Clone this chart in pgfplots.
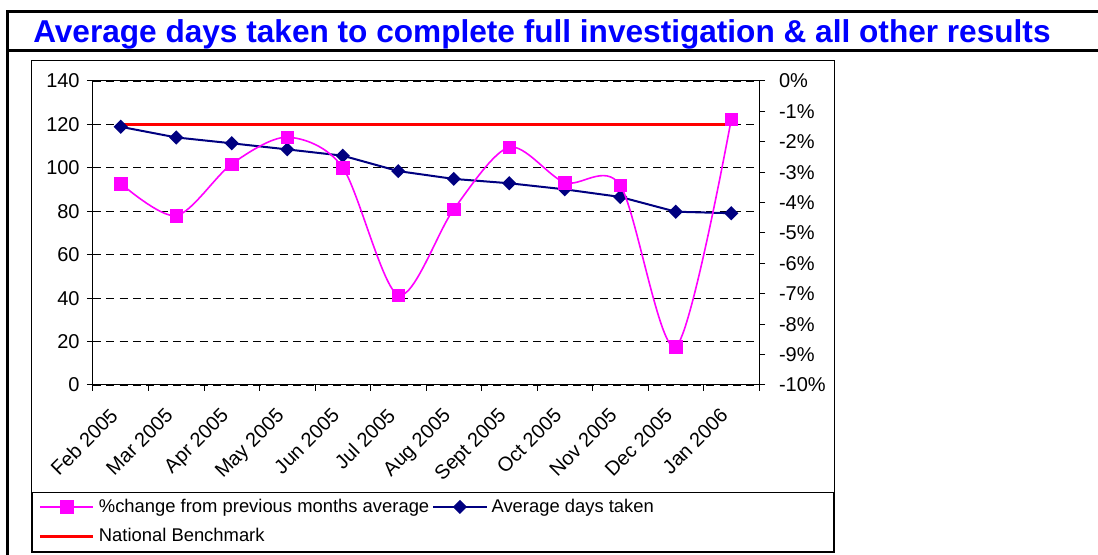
\documentclass[border=0pt]{standalone}
\usepackage{fontspec}
\setmainfont{Liberation Sans}
\usepackage{pgfplots}
\pgfplotsset{compat=1.18}
\definecolor{navyline}{RGB}{0,0,128}
\definecolor{pinkline}{RGB}{255,0,255}
\definecolor{benchred}{RGB}{255,0,0}
\definecolor{titleblue}{RGB}{0,0,255}
\pgfplotsset{
  legend image code/.code={\draw[mark repeat=2,mark phase=2,#1] plot coordinates {(0pt,0pt) (20pt,0pt) (40pt,0pt)};},
}
\newcommand{\tickfont}{\fontsize{15}{17}\selectfont}

\begin{document}
\begin{tikzpicture}[x=0.75pt,y=0.75pt]
\useasboundingbox (0,0) rectangle (1098,555);
% outer frame and title bar
\draw[line width=2.25pt] (1098,543) -- (7,543) -- (7,0);
\draw[line width=2.25pt] (7,504) -- (1098,504);
\node[anchor=base west, inner sep=0pt, text=titleblue,
      font=\fontsize{23.7}{28}\selectfont\bfseries] at (33,512)
  {Average days taken to complete full investigation \& all other results};
% chart area and legend box
\draw[line width=0.75pt] (31,494) rectangle (834,2);
\draw[line width=0.75pt] (32,62) rectangle (833,3);

\begin{axis}[
  at={(69.75pt,127.5pt)}, anchor=south west, scale only axis,
  width=499.5pt, height=228pt,
  xmin=0, xmax=12, ymin=0, ymax=140,
  ytick={0,20,...,140},
  xtick={0,1,...,12}, xticklabel=\empty,
  extra x ticks={0.5,1.5,...,11.5},
  extra x tick labels={Feb 2005,Mar 2005,Apr 2005,May 2005,Jun 2005,Jul 2005,Aug 2005,Sept 2005,Oct 2005,Nov 2005,Dec 2005,Jan 2006},
  extra x tick style={major tick length=0pt},
  x tick label style={xshift=-9pt, yshift=-11.5pt, rotate=45, anchor=north east, font=\tickfont},
  tick pos=left, tick align=outside,
  major tick length=4.5pt,
  ymajorgrids,
  major grid style={black, line width=0.6pt, dash pattern=on 6pt off 4pt},
  y tick label style={font=\tickfont, xshift=-2pt},
  /pgf/number format/assume math mode=true,
  axis line style={line width=0.75pt},
  tick style={black, line width=0.75pt},
  clip=false,
]
\addplot[benchred, line width=2.5pt, forget plot] coordinates {(0.5,120) (11.5,120)};
\addplot[navyline, line width=1.5pt, mark=square*, mark size=3pt,
  mark options={rotate=45, fill=navyline}, forget plot] coordinates {
  (0.5,118.9) (1.5,114.0) (2.5,111.3) (3.5,108.5) (4.5,105.6) (5.5,98.5)
  (6.5,94.9) (7.5,92.9) (8.5,90.1) (9.5,86.6) (10.5,79.8) (11.5,79.1)
};
\end{axis}

\begin{axis}[
  at={(69.75pt,127.5pt)}, anchor=south west, scale only axis,
  width=499.5pt, height=228pt,
  xmin=0, xmax=12, ymin=-10, ymax=0,
  axis x line=none, axis y line*=right,
  ytick={-10,-9,...,0},
  yticklabels={-10\%,-9\%,-8\%,-7\%,-6\%,-5\%,-4\%,-3\%,-2\%,-1\%,0\%},
  tick align=outside, major tick length=4.5pt,
  y tick label style={font=\tickfont, xshift=7pt},
  axis line style={line width=0.75pt},
  tick style={black, line width=0.75pt},
  legend columns=2,
  legend cell align=left,
  legend style={at={(axis description cs:-0.0826,-0.3618)}, anchor=north west,
    draw=none, fill=none, inner sep=0pt, row sep=4.5pt,
    nodes={inner sep=3pt}, font=\fontsize{13.8}{15}\selectfont},
  clip=false,
]
\addplot[pinkline, line width=1.2pt, smooth, mark=square*, mark size=4.7pt,
  mark options={fill=pinkline, draw=pinkline, line width=0.3pt}] coordinates {
  (0.5,-3.37) (1.5,-4.43) (2.5,-2.73) (3.5,-1.85) (4.5,-2.85) (5.5,-7.04)
  (6.5,-4.22) (7.5,-2.18) (8.5,-3.34) (9.5,-3.43) (10.5,-8.74) (11.5,-1.26)
};
\addlegendentry{\makebox[247pt][l]{\%change from previous months average}}
\addlegendimage{navyline, line width=1.5pt, mark=square*, mark size=3pt, mark options={rotate=45, fill=navyline}}
\addlegendentry{Average days taken}
\addlegendimage{benchred, line width=2.5pt}
\addlegendentry{National Benchmark}
\end{axis}
\end{tikzpicture}
\end{document}
